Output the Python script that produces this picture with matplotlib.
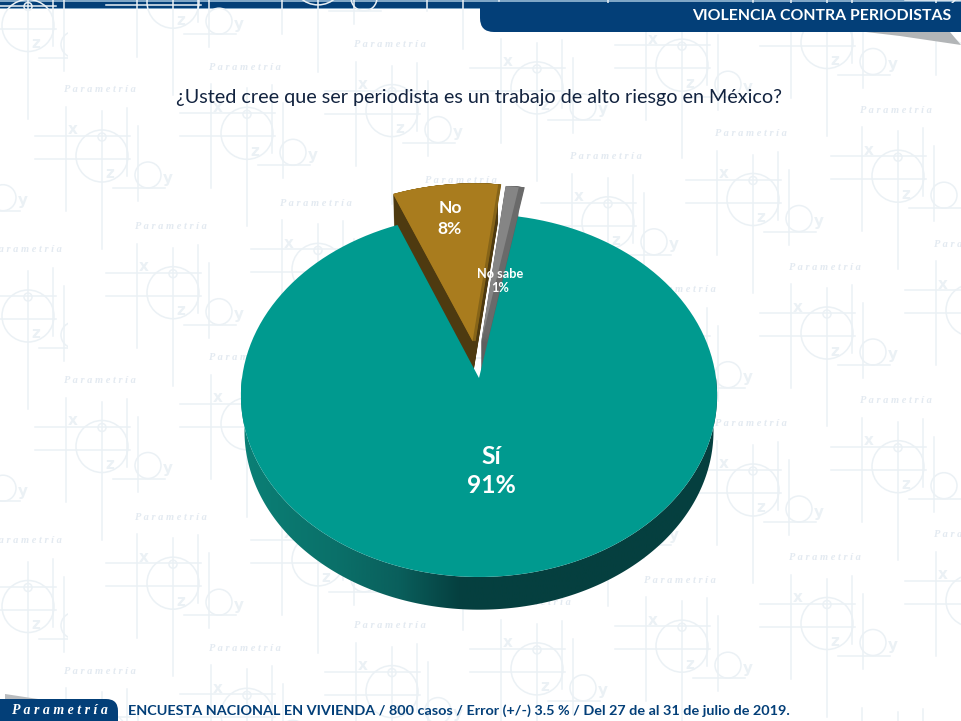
import numpy as np
import matplotlib
matplotlib.use("Agg")
import matplotlib.pyplot as plt
from matplotlib.transforms import Transform
from matplotlib.patches import Circle, Rectangle, PathPatch
from matplotlib.path import Path
from matplotlib.colors import LinearSegmentedColormap

# ---- data ----
categories = ["Sí", "No", "No sabe"]
values = [91, 8, 1]
title = "¿Usted cree que ser periodista es un trabajo de alto riesgo en México?"
header = "VIOLENCIA CONTRA PERIODISTAS"
footer = "ENCUESTA NACIONAL EN VIVIENDA / 800 casos / Error (+/-) 3.5 % / Del 27 de al 31 de julio de 2019."
brand = "P a r a m e t r í a"

# ---- style ----
face_colors = ["#009A8F", "#A97C1E", "#858585"]
wall_colors = ["#0A6A66", "#4E3A10", "#5F5F5F"]
side_colors = ["#0A6A66", "#866418", "#6A6A6A"]
explode = [0, 0.21, 0.20]
nudge = [0, 0, -5]
FONT = "Lato"
NAVY = "#033F78"
WM = "#EBF1F5"
WM_TXT = "#E3EAF1"

fig = plt.figure(figsize=(9.61, 7.21), dpi=100, facecolor="white")
ax = fig.add_axes([0, 0, 1, 1])


class Perspective(Transform):
    """Tilted-disc projection from pie coordinates to picture coordinates."""
    input_dims = output_dims = 2

    def __init__(self, drop=0.0, dx=0.0):
        super().__init__()
        self.drop = drop
        self.dx = dx

    def transform_non_affine(self, xy):
        xy = np.asarray(xy, dtype=float)
        w = 1 + 0.0964 * xy[:, 1]
        return np.column_stack([479 + self.dx + 237 * xy[:, 0] / w,
                                378 + self.drop - 179.8 * xy[:, 1] / w])

    def transform_path_non_affine(self, path):
        pts = []
        for curve, _ in path.iter_bezier():
            pts.append(curve(np.linspace(0, 1, 10)))
        v = np.vstack(pts)
        return Path(self.transform_non_affine(v))


# ---- watermark ----
def tile(lx, ly, clip=None):
    art = []
    for x0, x1, y in [(-65, 30, 46), (-65, 30, 69), (13, 65, 98)]:
        art += ax.plot([lx + x0, lx + x1], [ly + y, ly + y], color=WM, lw=1.1, zorder=1)
    for x, y0, y1 in [(-34, 17, 121), (2, 21, 159), (27, 18, 86), (38, 36, 111)]:
        art += ax.plot([lx + x, lx + x], [ly + y0, ly + y1], color=WM, lw=1.1, zorder=1)
    for cx, cy, r in [(2, 66, 26), (48, 85, 13), (2, 47, 4)]:
        c = Circle((lx + cx, ly + cy), r, fill=False, ec=WM, lw=1.1, zorder=1)
        ax.add_patch(c)
        art.append(c)
    for s, dx, dy in [("x", -27, 40), ("z", 10, 84), ("y", 68, 88)]:
        inside = clip is None or lx + dx < clip[0] + clip[2] - 6
        if 6 < lx + dx < 955 and 6 < ly + dy < 715 and inside:
            art.append(ax.text(lx + dx, ly + dy, s, color=WM, fontsize=11, ha="center", va="center",
                               family="DejaVu Sans", weight="bold", zorder=1))
    if 42 < ly < 680 and lx < 1000:
        art.append(ax.text(lx, ly, "P a r a m e t r í a", color=WM_TXT, fontsize=7.5, ha="center",
                           va="center", family="Liberation Serif", style="italic", weight="bold", zorder=1))
    if clip is not None:
        rect = Rectangle((clip[0], clip[1]), clip[2], clip[3], transform=ax.transData)
        for a in art:
            a.set_clip_on(True)
            a.set_clip_path(rect)


for j in range(-1, 3):
    for i in range(-1, 7):
        tile(100 + 145 * i, 90 - 22.7 * i + 290.5 * j)
    for i in range(0, 7):
        clip = (0, -400, 68, 1500) if i == 0 else None
        tile(26 + 145 * i, 250 - 23.3 * i + 290.5 * j, clip)

# ---- header and footer ----
ax.add_patch(Rectangle((0, 0), 961, 9, fc="#7FA6C6", ec="none", zorder=0.5))
ax.add_patch(Rectangle((0, 1.5), 961, 6.5, fc=NAVY, ec="none", zorder=0.6))
ax.add_patch(PathPatch(Path([(480, 3), (961, 3), (961, 32), (494, 32), (480, 32), (480, 18), (480, 3)],
                           [1, 2, 2, 2, 3, 3, 2]), fc=NAVY, ec="none", zorder=2))
ax.add_patch(PathPatch(Path([(866, 32), (950, 32), (961, 45), (900, 36), (866, 32)], [1, 2, 2, 2, 79]),
                       fc="#B2B5B7", ec="none", zorder=2))
ax.text(951, 16.5, header, color="white", fontsize=11.4, ha="right", va="center",
        family=FONT, weight="bold", zorder=3)
ax.add_patch(PathPatch(Path([(0, 721), (0, 699), (106, 699), (118, 699), (118, 711), (118, 721), (0, 721)],
                           [1, 2, 2, 3, 3, 2, 79]), fc=NAVY, ec="none", zorder=2))
ax.add_patch(PathPatch(Path([(5, 699), (5, 694), (38, 699), (5, 699)], [1, 2, 2, 79]),
                       fc="#B9BCBF", ec="none", zorder=2))
ax.text(60, 710, brand, color="white", fontsize=10, ha="center", va="center",
        family="Liberation Serif", style="italic", weight="bold", zorder=3)
ax.text(128, 710.5, footer, color=NAVY, fontsize=10.4, ha="left", va="center",
        family=FONT, weight="bold", zorder=3)

ax.text(479.5, 98, title, color="#12233F", fontsize=14.25, ha="center", va="center", family=FONT, zorder=3)

# ---- pie ----
START = 79.6
DEPTH = 36.0
SHRINK = 0.015


def draw_pie(t, colors, z, dx=(0, 0, 0)):
    wedges, _ = ax.pie(values, startangle=START, counterclock=False, colors=colors,
                       explode=explode, radius=1 - SHRINK * t,
                       wedgeprops=dict(linewidth=0, zorder=z))
    for w, n, d in zip(wedges, nudge, dx):
        w.set_transform(Perspective(DEPTH * t, n + d) + ax.transData)
    return wedges


# walls of the pulled-out slices, back to front
for t in np.linspace(1, 0.03, 36):
    draw_pie(t, wall_colors, 3)[0].set_visible(False)
# side stripes on the right of the pulled-out slices
for s in np.linspace(1, 0.1, 10):
    draw_pie(0, side_colors, 3.5, dx=(0, 3 * s, 6 * s))[0].set_visible(False)

# wall of the main slice, shaded from left to right
theta = np.radians(np.linspace(180, 360, 200))
unit = np.column_stack([np.cos(theta), np.sin(theta)])
lower = Perspective(DEPTH).transform_non_affine(unit * (1 - SHRINK))
upper = Perspective(0).transform_non_affine(unit)
clip_poly = Path(np.vstack([lower, upper[::-1], lower[:1]]), closed=True)
wall_cmap = LinearSegmentedColormap.from_list(
    "wall", [(0, "#0B8076"), (0.2, "#0A7069"), (0.33, "#0A5F5C"), (0.46, "#053F3F"), (1, "#05403F")])
im = ax.imshow(np.linspace(0, 1, 256)[None, :], cmap=wall_cmap, aspect="auto",
               extent=(241, 718, 721, 300), zorder=4)
im.set_clip_path(PathPatch(clip_poly, transform=ax.transData))

faces = draw_pie(0, face_colors, 4.5)
faces[0].set_zorder(5)

# ---- slice labels ----
for txt, x, y, fs, ls in [("No\n8%", 450, 218.5, 12.6, 1.35), ("No sabe\n1%", 500, 281, 9.2, 1.2),
                          ("Sí\n91%", 491, 471, 17.8, 1.35)]:
    ax.text(x, y, txt, color="white", fontsize=fs, ha="center", va="center", family=FONT,
            weight="bold", linespacing=ls, zorder=6)

ax.set_aspect("auto")
ax.set_xlim(0, 961)
ax.set_ylim(721, 0)
ax.axis("off")
fig.savefig("out.png", dpi=100, facecolor="white")
